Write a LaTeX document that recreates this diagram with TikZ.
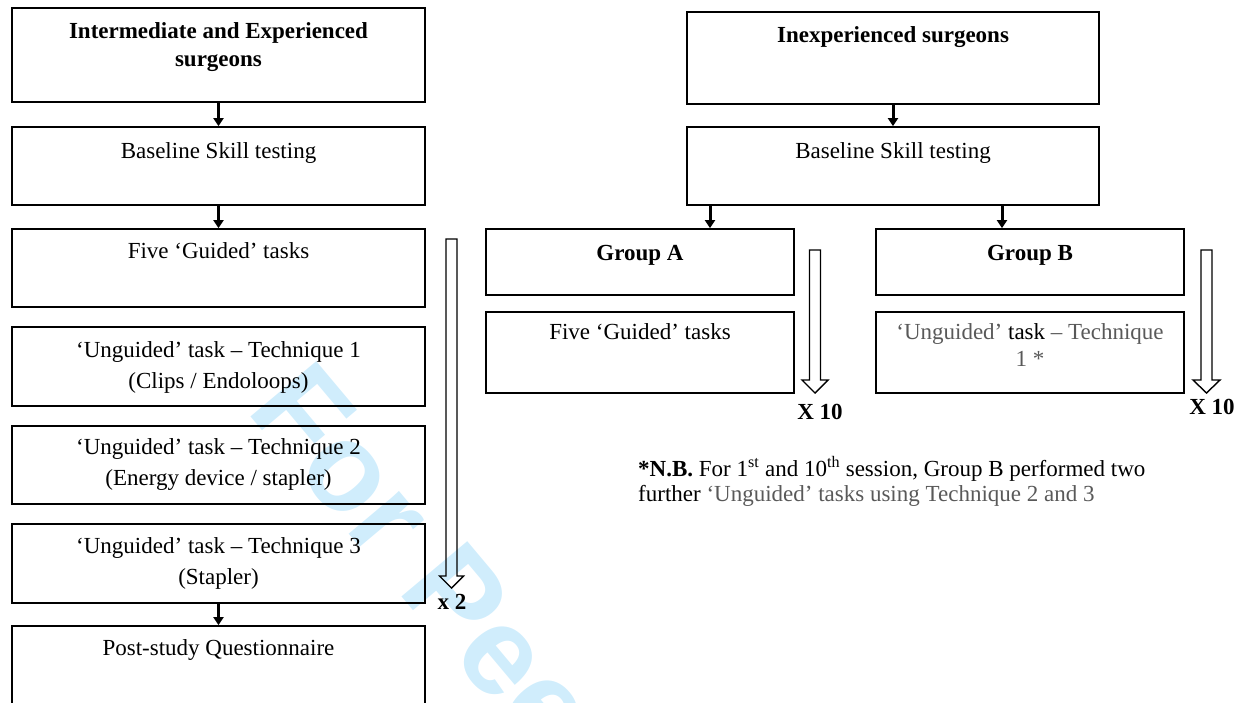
\documentclass[tikz,border=0pt]{standalone}
\usepackage{fontspec}
\setmainfont{Liberation Serif}
\newfontfamily\wmfont{Liberation Sans}
\usetikzlibrary{arrows.meta}
\definecolor{wmblue}{RGB}{208,237,252}
\definecolor{txtgray}{RGB}{89,89,89}
\newcommand\hollowdown[5]{% cx, top, head base, tip, half head width
  \draw[hollow] (#1-5.5,#2) -- (#1+5.5,#2) -- (#1+5.5,#3) -- (#1+#5,#3) -- (#1,#4) -- (#1-#5,#3) -- (#1-5.5,#3) -- cycle;}
\begin{document}
\begin{tikzpicture}[x=1pt,y=-1pt,
  box/.style={draw, line width=1.8pt, inner sep=0pt},
  txt/.style={font=\fontsize{23}{31}\selectfont, align=center, inner sep=0pt, anchor=north},
  btxt/.style={font=\fontsize{23}{28}\selectfont\bfseries, align=center, inner sep=0pt, anchor=north},
  gtxt/.style={font=\fontsize{23}{27}\selectfont, align=center, inner sep=0pt, anchor=north},
  notetxt/.style={font=\fontsize{23}{25}\selectfont, align=left, inner sep=0pt, anchor=north west},
  lbl/.style={font=\fontsize{23}{26}\selectfont\bfseries, inner sep=0pt},
  flow/.style={line width=3pt, -{Triangle[width=10pt,length=8pt]}},
  hollow/.style={draw, line width=1.4pt, line join=miter},
  wm/.style={font=\wmfont\bfseries\fontsize{125}{125}\selectfont, text=wmblue, inner sep=0pt}
]
\path[use as bounding box] (0,0) rectangle (1248,702);
\begin{scope}
\clip (0,0) rectangle (1248,702);
% watermark
\node[wm, rotate=-50, anchor=base west] (wmk) at (245,410) {For Peer Review};

% left column
\node[box, minimum width=413pt, minimum height=94pt] (i1) at (218.5,55) {};
\node[box, minimum width=413pt, minimum height=78pt] (i2) at (218.5,166) {};
\node[box, minimum width=413pt, minimum height=78pt] (i3) at (218.5,268) {};
\node[box, minimum width=413pt, minimum height=79pt] (i4) at (218.5,366.5) {};
\node[box, minimum width=413pt, minimum height=78pt] (i5) at (218.5,465) {};
\node[box, minimum width=413pt, minimum height=79pt] (i6) at (218.5,563.5) {};
\node[box, minimum width=413pt, minimum height=94pt] (i7) at (218.5,673) {};

\node[btxt] (t1) at (218.5,18.4) {\strut Intermediate and Experienced\\surgeons};
\node[txt] (t2) at (218.5,136.3) {\strut Baseline Skill testing};
\node[txt] (t3) at (218.5,236.3) {\strut Five ‘Guided’ tasks};
\node[txt] (t4) at (218.5,335.3) {\strut ‘Unguided’ task -- Technique 1\\(Clips / Endoloops)};
\node[txt] (t5) at (218.5,432.3) {\strut ‘Unguided’ task -- Technique 2\\(Energy device / stapler)};
\node[txt] (t6) at (218.5,531.3) {\strut ‘Unguided’ task -- Technique 3\\(Stapler)};
\node[txt] (t7) at (218.5,633.3) {\strut Post-study Questionnaire};

\draw[flow] (i1.south) -- (i2.north);
\draw[flow] (i2.south) -- (i3.north);
\draw[flow] (i6.south) -- (i7.north);

\hollowdown{451.5}{239}{576}{588}{12}
\node[lbl] (x2) at (452,602) {x 2};

% right column
\node[box, minimum width=412pt, minimum height=92pt] (r1) at (893,58) {};
\node[box, minimum width=412pt, minimum height=78pt] (r2) at (893,166) {};
\node[box, minimum width=308pt, minimum height=66pt] (ga) at (640,262) {};
\node[box, minimum width=308pt, minimum height=66pt] (gb) at (1030,262) {};
\node[box, minimum width=308pt, minimum height=81pt] (fa) at (640,352.5) {};
\node[box, minimum width=308pt, minimum height=81pt] (fb) at (1030,352.5) {};

\node[btxt] (tr1) at (893,22.4) {\strut Inexperienced surgeons};
\node[txt] (tr2) at (893,136.3) {\strut Baseline Skill testing};
\node[btxt] (tga) at (640,240.4) {\strut Group A};
\node[btxt] (tgb) at (1030,240.4) {\strut Group B};
\node[txt] (tfa) at (640,317.3) {\strut Five ‘Guided’ tasks};
\node[gtxt] (tfb) at (1030,320.1) {\strut\textcolor{txtgray}{‘Unguided’} task \textcolor{txtgray}{-- Technique}\\\textcolor{txtgray}{1 *}};

\coordinate (ca) at (710,0);
\coordinate (cb) at (1002,0);
\draw[flow] (r1.south) -- (r2.north);
\draw[flow] (r2.south -| ca) -- (ga.north -| ca);
\draw[flow] (r2.south -| cb) -- (gb.north -| cb);

\hollowdown{815}{250}{380}{393}{13}
\hollowdown{1206.5}{250}{380}{393}{13.5}
\node[lbl] (x10a) at (820,412) {X 10};
\node[lbl] (x10b) at (1212,407) {X 10};

\node[notetxt] (note) at (638,456) {\strut\textbf{*N.B.} For 1\textsuperscript{st} and 10\textsuperscript{th} session, Group B performed two\\further \textcolor{txtgray}{‘Unguided’ tasks using Technique 2 and 3}};
\end{scope}
\end{tikzpicture}
\end{document}
